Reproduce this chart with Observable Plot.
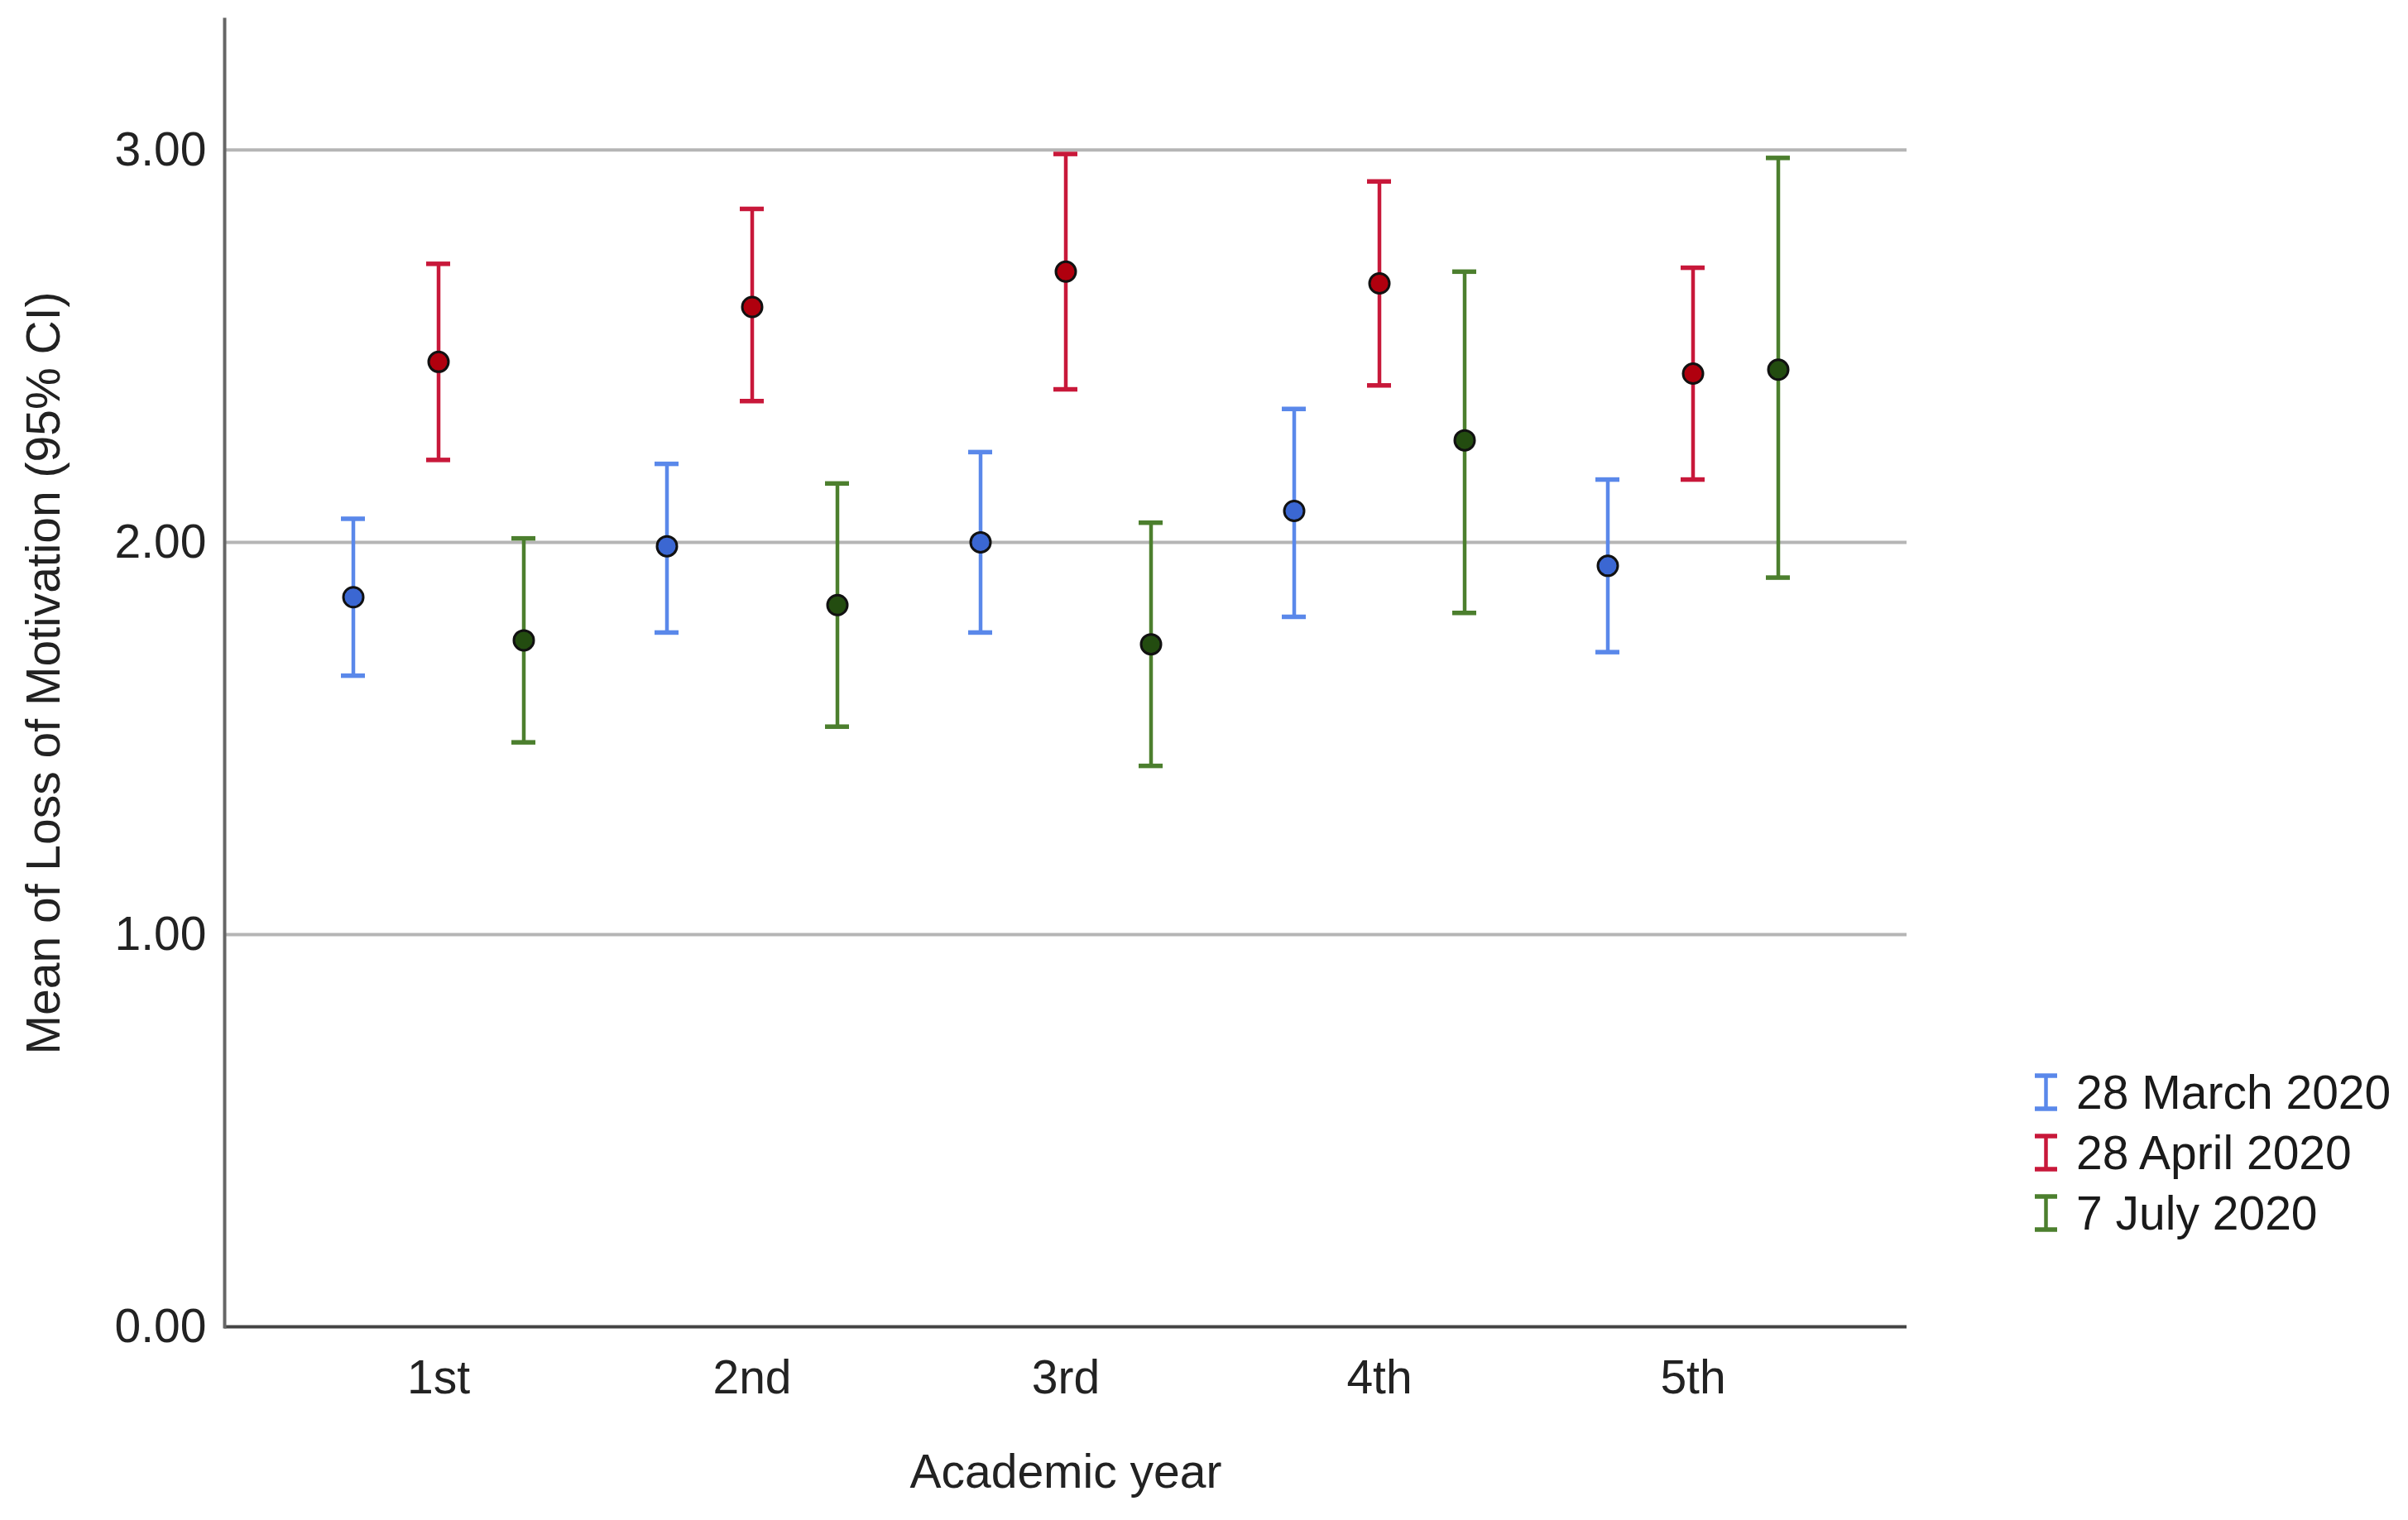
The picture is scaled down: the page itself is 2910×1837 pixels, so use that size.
<!DOCTYPE html>
<html>
<head>
<meta charset="utf-8">
<script src="https://cdn.jsdelivr.net/npm/d3@7"></script>
<script src="https://cdn.jsdelivr.net/npm/@observablehq/plot@0.6"></script>
<style>
  html, body { margin: 0; padding: 0; background: #fff; }
  #wrap { position: relative; width: 2910px; height: 1837px; font-family: "Liberation Sans", Arial, sans-serif; }
  #legend { position: absolute; left: 2458px; top: 1283px; font-size: 57px; color: #1a1a1a; }
  .row { display: flex; align-items: center; height: 73px; }
  .row svg { margin-right: 22px; }
</style>
</head>
<body>
<div id="wrap"><div id="chart"></div><div id="legend"></div></div>
<script>
const years = ["1st", "2nd", "3rd", "4th", "5th"];
const seriesNames = ["28 March 2020", "28 April 2020", "7 July 2020"];
const marchMean = [1.86, 1.99, 2.00, 2.08, 1.94];
const marchLow  = [1.66, 1.77, 1.77, 1.81, 1.72];
const marchHigh = [2.06, 2.20, 2.23, 2.34, 2.16];
const aprilMean = [2.46, 2.60, 2.69, 2.66, 2.43];
const aprilLow  = [2.21, 2.36, 2.39, 2.40, 2.16];
const aprilHigh = [2.71, 2.85, 2.99, 2.92, 2.70];
const julyMean  = [1.75, 1.84, 1.74, 2.26, 2.44];
const julyLow   = [1.49, 1.53, 1.43, 1.82, 1.91];
const julyHigh  = [2.01, 2.15, 2.05, 2.69, 2.98];
const yTicks = [0, 1, 2, 3];

const barColors = ["#5a88ea", "#c8183a", "#4c7f2e"];
const dotColors = ["#3b67d2", "#b0000e", "#234c10"];
const offsets = [-103, 0, 103];

const means = [marchMean, aprilMean, julyMean];
const lows = [marchLow, aprilLow, julyLow];
const highs = [marchHigh, aprilHigh, julyHigh];
const seriesData = seriesNames.map((s, i) => years.map((y, j) => ({year: y, series: s, mean: means[i][j], low: lows[i][j], high: highs[i][j]})));

const W = 2910, H = 1837;
const mL = 271, mR = 606, mT = 23, mB = 234;
const padOuter = 0.182;
const step = (W - mL - mR) / (years.length + 2 * padOuter);
const capW = 29;
const inset = (step - capW) / 2;

const marks = [
  Plot.ruleY(yTicks.filter(d => d > 0), {stroke: "#b5b5b5", strokeWidth: 4}),
  Plot.ruleY([0], {stroke: "#444", strokeWidth: 4}),
  Plot.frame({anchor: "left", stroke: "#666", strokeWidth: 4}),
  Plot.axisY({ticks: yTicks, tickFormat: d3.format(".2f"), tickSize: 0, tickPadding: 22, fontSize: 57, fill: "#222",
    label: "Mean of Loss of Motivation (95% CI)", labelAnchor: "center", labelOffset: 240, labelArrow: false}),
  Plot.axisX({tickSize: 0, tickPadding: 40, fontSize: 57, fill: "#222",
    label: "Academic year", labelAnchor: "center", labelOffset: 194, labelArrow: false})
];
seriesData.forEach((data, i) => {
  const dx = offsets[i];
  marks.push(Plot.ruleX(data, {x: "year", y1: "low", y2: "high", stroke: barColors[i], strokeWidth: 4.5, dx}));
  marks.push(Plot.tickY(data, {x: "year", y: "low", stroke: barColors[i], strokeWidth: 5.5, dx, insetLeft: inset, insetRight: inset}));
  marks.push(Plot.tickY(data, {x: "year", y: "high", stroke: barColors[i], strokeWidth: 5.5, dx, insetLeft: inset, insetRight: inset}));
});
seriesData.forEach((data, i) => {
  marks.push(Plot.dot(data, {x: "year", y: "mean", r: 12, fill: dotColors[i], stroke: "#111", strokeWidth: 3, dx: offsets[i]}));
});

const chart = Plot.plot({
  width: W, height: H,
  marginLeft: mL, marginRight: mR, marginTop: mT, marginBottom: mB,
  style: {fontFamily: "Liberation Sans, Arial, sans-serif", fontSize: "57px", color: "#222", background: "#fff"},
  x: {type: "band", domain: years, paddingInner: 0, paddingOuter: padOuter, label: null},
  y: {domain: [0, 3.333], label: null},
  marks
});
document.getElementById("chart").appendChild(chart);

const legend = document.getElementById("legend");
seriesNames.forEach((name, i) => {
  const row = document.createElement("div");
  row.className = "row";
  const ns = "http://www.w3.org/2000/svg";
  const svg = document.createElementNS(ns, "svg");
  svg.setAttribute("width", 29); svg.setAttribute("height", 46);
  const c = barColors[i];
  svg.innerHTML = `<line x1="14.5" x2="14.5" y1="3" y2="43" stroke="${c}" stroke-width="4.5"/>` +
    `<line x1="1" x2="28" y1="3" y2="3" stroke="${c}" stroke-width="5.5"/>` +
    `<line x1="1" x2="28" y1="43" y2="43" stroke="${c}" stroke-width="5.5"/>`;
  row.appendChild(svg);
  const t = document.createElement("span");
  t.textContent = name;
  row.appendChild(t);
  legend.appendChild(row);
});
</script>
</body>
</html>
